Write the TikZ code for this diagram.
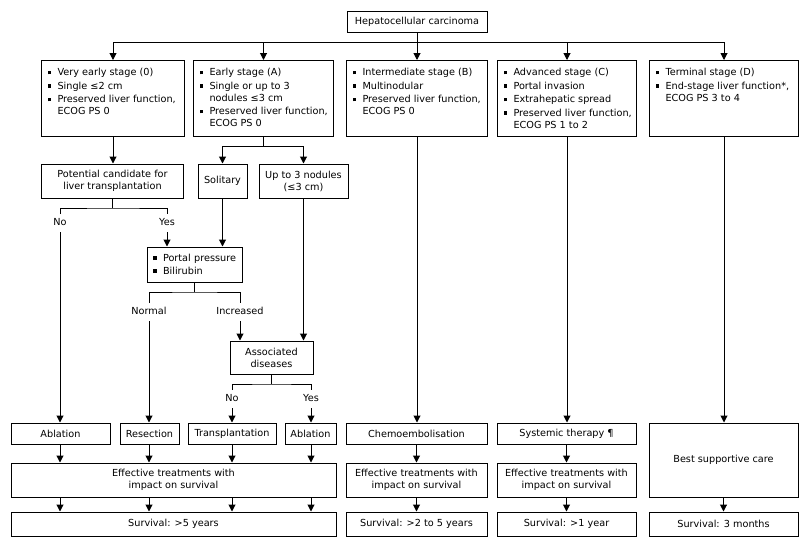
\documentclass[tikz,border=0pt]{standalone}
\usepackage{fontspec}
\setmainfont{DejaVu Sans}
\usetikzlibrary{arrows.meta}
\newcommand\bul{\makebox[10pt][l]{\raisebox{1.6pt}{\rule{3.8pt}{3.8pt}}}}
\newcommand\cont{\hspace*{10pt}}
\newcommand\stagetext[2]{\parbox[c][62pt][t]{#1}{\begin{tabular}[t]{@{}l@{}}#2\end{tabular}}}
\begin{document}
\begin{tikzpicture}[x=1pt,y=-1pt,line width=1pt,
  txt/.style={font=\fontsize{9.7}{12}\selectfont},
  box/.style={txt,draw,line width=1pt,inner sep=0pt,align=center},
  stagebox/.style={txt,draw,line width=1pt,inner xsep=6pt,inner ysep=7pt,anchor=north west},
  lbl/.style={txt,inner sep=4pt,text height=7pt,text depth=2pt},
  arr/.style={-{Triangle[width=7pt,length=7pt]}}]
\useasboundingbox[fill=white] (0,0) rectangle (808,547);

% top
\node[box,minimum width=140pt,minimum height=21pt] (hcc) at (417,21.5) {Hepatocellular carcinoma};

% stages
\node[stagebox] (s0) at (41,60) {\stagetext{131pt}{\bul Very early stage (0)\\[1.5pt]\bul Single ≤2 cm\\[1.5pt]\bul Preserved liver function,\\\cont ECOG PS 0}};
\node[stagebox] (sA) at (193,60) {\stagetext{128pt}{\bul Early stage (A)\\[1.5pt]\bul Single or up to 3\\\cont nodules ≤3 cm\\[1.5pt]\bul Preserved liver function,\\\cont ECOG PS 0}};
\node[stagebox] (sB) at (346,60) {\stagetext{129pt}{\bul Intermediate stage (B)\\[1.5pt]\bul Multinodular\\[1.5pt]\bul Preserved liver function,\\\cont ECOG PS 0}};
\node[stagebox] (sC) at (497,60) {\stagetext{127pt}{\bul Advanced stage (C)\\[1.5pt]\bul Portal invasion\\[1.5pt]\bul Extrahepatic spread\\[1.5pt]\bul Preserved liver function,\\\cont ECOG PS 1 to 2}};
\node[stagebox] (sD) at (649,60) {\stagetext{137pt}{\bul Terminal stage (D)\\[1.5pt]\bul End-stage liver function*,\\\cont ECOG PS 3 to 4}};

% middle
\node[box,minimum width=142pt,minimum height=34pt] (pc) at (112.5,181) {Potential candidate for\\liver transplantation};
\node[box,minimum width=49pt,minimum height=34pt] (sol) at (222.5,181) {Solitary};
\node[box,minimum width=89pt,minimum height=34pt] (up3) at (303.5,181) {Up to 3 nodules\\(≤3 cm)};
\node[box,minimum width=95pt,minimum height=35pt,text width=83pt,inner xsep=6pt,align=left] (pp) at (194.5,264.5) {\bul Portal pressure\\[1pt]\bul Bilirubin};
\node[box,minimum width=83pt,minimum height=33pt] (ad) at (271.5,357.5) {Associated\\diseases};

\node[lbl] (no1) at (60,223) {No};
\node[lbl] (yes1) at (167,223) {Yes};
\node[lbl] (nor) at (149,312) {Normal};
\node[lbl] (inc) at (240,312) {Increased};
\node[lbl] (no2) at (232,399) {No};
\node[lbl] (yes2) at (311,399) {Yes};

% treatments
\node[box,minimum width=99pt,minimum height=21pt] (abl1) at (60.5,433.5) {Ablation};
\node[box,minimum width=59pt,minimum height=21pt] (res) at (149.5,433.5) {Resection};
\node[box,minimum width=88pt,minimum height=21pt] (tra) at (232,433.5) {Transplantation};
\node[box,minimum width=51pt,minimum height=21pt] (abl2) at (310.5,433.5) {Ablation};
\node[box,minimum width=141pt,minimum height=21pt] (che) at (416.5,433.5) {Chemoembolisation};
\node[box,minimum width=139pt,minimum height=21pt] (sys) at (566.5,433.5) {Systemic therapy ¶};
\node[box,minimum width=149pt,minimum height=74pt] (bsc) at (723.5,460) {Best supportive care};

\node[box,minimum width=325pt,minimum height=34pt] (eff1) at (173.5,480) {Effective treatments with\\impact on survival};
\node[box,minimum width=141pt,minimum height=34pt] (eff2) at (416.5,480) {Effective treatments with\\impact on survival};
\node[box,minimum width=139pt,minimum height=34pt] (eff3) at (566.5,480) {Effective treatments with\\impact on survival};

\node[box,minimum width=325pt,minimum height=24pt] (sur1) at (173.5,524) {Survival: >5 years};
\node[box,minimum width=141pt,minimum height=24pt] (sur2) at (416.5,524) {Survival: >2 to 5 years};
\node[box,minimum width=139pt,minimum height=24pt] (sur3) at (566.5,524) {Survival: >1 year};
\node[box,minimum width=149pt,minimum height=24pt] (sur4) at (723.5,524) {Survival: 3 months};

% connectors
\coordinate (bus) at (0,42);
\draw (hcc.south) -- (hcc.south |- bus);
\draw (s0.north |- bus) -- (sD.north |- bus);
\foreach \n in {s0,sA,sB,sC,sD} \draw[arr] (\n.north |- bus) -- (\n.north);

\draw[arr] (s0.south) -- (s0.south |- pc.north);

\coordinate (as) at (263,146);
\draw (sA.south) -- (sA.south |- as);
\draw (sol.north |- as) -- (up3.north |- as);
\draw[arr] (sol.north |- as) -- (sol.north);
\draw[arr] (up3.north |- as) -- (up3.north);

\coordinate (ps) at (112.5,208);
\draw (pc.south) -- (ps);
\draw (no1.north) |- (ps) -| (yes1.north);
\draw[arr] (yes1.south) -- (yes1.south |- pp.north);
\draw[arr] (sol.south) -- (sol.south |- pp.north);
\draw[arr] (no1.south) -- (no1.south |- abl1.north);

\coordinate (pps) at (194.5,292);
\draw (pp.south) -- (pps);
\draw (nor.north) |- (pps) -| (inc.north);
\draw[arr] (nor.south) -- (nor.south |- res.north);
\draw[arr] (inc.south) -- (inc.south |- ad.north);
\draw[arr] (up3.south) -- (up3.south |- ad.north);

\coordinate (ads) at (271.5,384);
\draw (ad.south) -- (ads);
\draw (no2.north) |- (ads) -| (yes2.north);
\draw[arr] (no2.south) -- (no2.south |- tra.north);
\draw[arr] (yes2.south) -- (yes2.south |- abl2.north);

\draw[arr] (sB.south) -- (sB.south |- che.north);
\draw[arr] (sC.south) -- (sC.south |- sys.north);
\draw[arr] (sD.south) -- (sD.south |- bsc.north);

\foreach \n in {no1,nor,no2,yes2} {
  \draw[arr] (\n.south |- abl1.south) -- (\n.south |- eff1.north);
  \draw[arr] (\n.south |- eff1.south) -- (\n.south |- sur1.north);
}
\draw[arr] (che.south) -- (che.south |- eff2.north);
\draw[arr] (eff2.south) -- (eff2.south |- sur2.north);
\draw[arr] (sys.south) -- (sys.south |- eff3.north);
\draw[arr] (eff3.south) -- (eff3.south |- sur3.north);
\draw[arr] (bsc.south) -- (bsc.south |- sur4.north);
\end{tikzpicture}
\end{document}
